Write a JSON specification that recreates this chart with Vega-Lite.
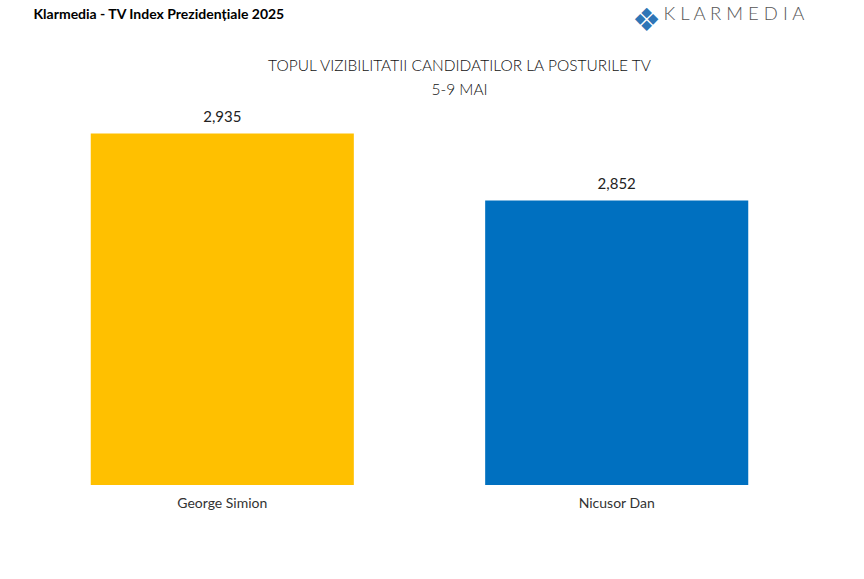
{
  "$schema": "https://vega.github.io/schema/vega-lite/v6.json",
  "width": 789,
  "height": 404,
  "autosize": {"type": "none"},
  "padding": {"left": 25, "top": 81, "right": 50, "bottom": 94},
  "background": "white",
  "title": {
    "text": ["TOPUL VIZIBILITATII CANDIDATILOR LA POSTURILE TV", "5-9 MAI"],
    "anchor": "middle",
    "frame": "group",
    "font": "Lato",
    "fontSize": 15.5,
    "fontWeight": 300,
    "color": "#111111",
    "lineHeight": 24,
    "dx": 40,
    "dy": 98
  },
  "data": {
    "values": [
      {"candidat": "George Simion", "valoare": 2935},
      {"candidat": "Nicusor Dan", "valoare": 2852}
    ]
  },
  "encoding": {
    "x": {
      "field": "candidat",
      "type": "nominal",
      "sort": null,
      "scale": {"paddingInner": 0.333, "paddingOuter": 0.1667},
      "axis": {
        "title": "❖",
        "titleFont": "DejaVu Sans",
        "titleFontSize": 32,
        "titleFontWeight": "normal",
        "titleColor": "#2E75B6",
        "titleAlign": "center",
        "titleBaseline": "middle",
        "titleX": 621,
        "titleY": -465,
        "labelAngle": 0,
        "labelFont": "Lato",
        "labelFontSize": 14,
        "labelColor": "#333333",
        "labelPadding": 11,
        "ticks": false,
        "domain": false,
        "grid": false
      }
    },
    "y": {
      "field": "valoare",
      "type": "quantitative",
      "scale": {"domain": [2500, 3000], "zero": false, "nice": false}
    }
  },
  "layer": [
    {
      "mark": {"type": "bar", "clip": true},
      "encoding": {
        "y": {
          "field": "valoare",
          "type": "quantitative",
          "scale": {"domain": [2500, 3000], "zero": false, "nice": false},
          "axis": {
            "title": "Klarmedia - TV Index Prezidențiale 2025",
            "titleFont": "Lato",
            "titleFontSize": 14,
            "titleFontWeight": "bold",
            "titleColor": "#000000",
            "titleAngle": 0,
            "titleAlign": "left",
            "titleBaseline": "alphabetic",
            "titleX": 8,
            "titleY": -63,
            "labels": false,
            "ticks": false,
            "domain": false,
            "grid": false
          }
        },
        "y2": {"datum": 2500},
        "color": {
          "field": "candidat",
          "type": "nominal",
          "scale": {"domain": ["George Simion", "Nicusor Dan"], "range": ["#FFC000", "#0070C0"]},
          "legend": null
        }
      }
    },
    {
      "mark": {"type": "text", "font": "Lato", "fontSize": 15, "color": "#222222", "baseline": "alphabetic", "dy": -12},
      "encoding": {
        "y": {
          "field": "valoare",
          "type": "quantitative",
          "scale": {"domain": [2500, 3000], "zero": false, "nice": false},
          "axis": {
            "orient": "right",
            "title": "K L A R M E D I A",
            "titleFont": "Lato",
            "titleFontSize": 18.5,
            "titleFontWeight": 300,
            "titleColor": "#555555",
            "titleAngle": 0,
            "titleAlign": "left",
            "titleBaseline": "alphabetic",
            "titleX": -151,
            "titleY": -62,
            "labels": false,
            "ticks": false,
            "domain": false,
            "grid": false
          }
        },
        "text": {"field": "valoare", "type": "quantitative", "format": ","}
      }
    }
  ],
  "resolve": {"axis": {"y": "independent"}},
  "config": {"view": {"stroke": null}}
}
